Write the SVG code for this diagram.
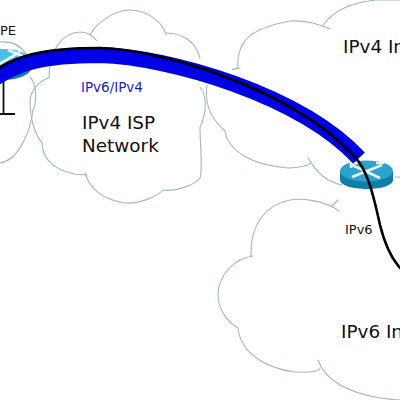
<svg xmlns="http://www.w3.org/2000/svg" width="400" height="400" viewBox="0 0 400 400">
<style>
.cloud{fill:none;stroke:#a3b8bc;stroke-width:1.1;stroke-linecap:round}
text{font-family:"DejaVu Sans",sans-serif;fill:#111}
.big{font-size:18.4px}
.small{font-size:13px}
.top{fill:#2aa3cd}
.side{fill:#0f7fa8}
.arrow{fill:none;stroke:#e8f4f8;stroke-width:2.6}
</style>
<rect width="400" height="400" fill="#fff"/>
<g id="cloud-left">
<path class="cloud" d="M0 42C12 41 21 46 26 54M30 77C37 84 37 102 33 110C31 128 20 160 0 163"/>
</g>
<g id="cloud-isp">
<path class="cloud" d="M49 78C49 50 62 33 80 32C87 32 93 36 97 41M90 35C97 22 115 10 130 10C147 10 163 22 166 35M167 33C182 33 196 42 200 58M49 78C40 80 31 90 30 100C30 123 36 135 42 143C42 160 58 175 87 175M85 173C90 190 105 200 125 203C140 204 158 196 163 190C175 192 195 185 200 178C203 170 200 145 200 127M200 87C207 95 207 113 200 127"/>
</g>
<g id="cloud-v4">
<path class="cloud" d="M240 68C230 70 230 70 238 68C236 40 252 28 290 21C308 20 320 25 330 29M323 25C335 10 350 3 376 0C385 0 395 0 400 0M207 85C205 100 207 115 225 131C228 150 250 165 288 168C300 168 310 165 310 163M308 158C318 175 328 182 342 185M395 177H400"/>
</g>
<g id="cloud-v6">
<path class="cloud" d="M332 206C335 203 338 200 338 200M339 211C325 200 300 198 290 200C265 205 250 225 251 256M253 256C235 258 218 275 218 295C218 310 228 322 238 328M238 328C240 350 262 368 295 372C310 373 320 371 320 368M318 360C325 380 345 392 380 398C390 399 395 400 400 400"/>
</g>
<g id="router-right">
<path class="side" d="M340 171V180C340 185 352 189 367 189S393 185 393 180V171Z"/>
<ellipse class="top" cx="366.500" cy="171" rx="26.500" ry="10.500"/>
<path class="arrow" d="M352 177L382 165M380 178L352 165M358 163H351V168M376 163H384"/>
</g>
<g id="router-left">
<path class="side" d="M-24 60V70C-24 75 -10 80 3 80S30 75 30 70V60Z"/>
<ellipse fill="#45c0e6" cx="3" cy="60" rx="27" ry="11"/>
<path class="arrow" d="M-8 68L20 52M8 50L25 57"/>
<path d="M3.500 77V114M-2 114H15" fill="none" stroke="#111" stroke-width="1.800"/>
</g>
<g id="connectors">
<path d="M-8 80C15 64 40 55 100 55C170 57 300 95 359 158" fill="none" stroke="#0000e6" stroke-width="16"/>
<path d="M-8 73C15 55 45 48 100 48C160 49 290 88 353 155C367 168 373 193 380 225C385 245 392 260 402 270" fill="none" stroke="#000" stroke-width="2.600"/>
</g>
<g id="labels">
<text class="small" x="0" y="35">PE</text>
<text x="81" y="91.500" style="fill:#1a1ad0;font-size:13.500px">IPv6/IPv4</text>
<text class="big" x="82" y="129">IPv4 ISP</text>
<text class="big" x="82" y="152">Network</text>
<text class="big" x="343" y="53">IPv4 In</text>
<text class="small" x="345" y="234">IPv6</text>
<text class="big" x="341" y="338">IPv6 In</text>
</g>
</svg>
